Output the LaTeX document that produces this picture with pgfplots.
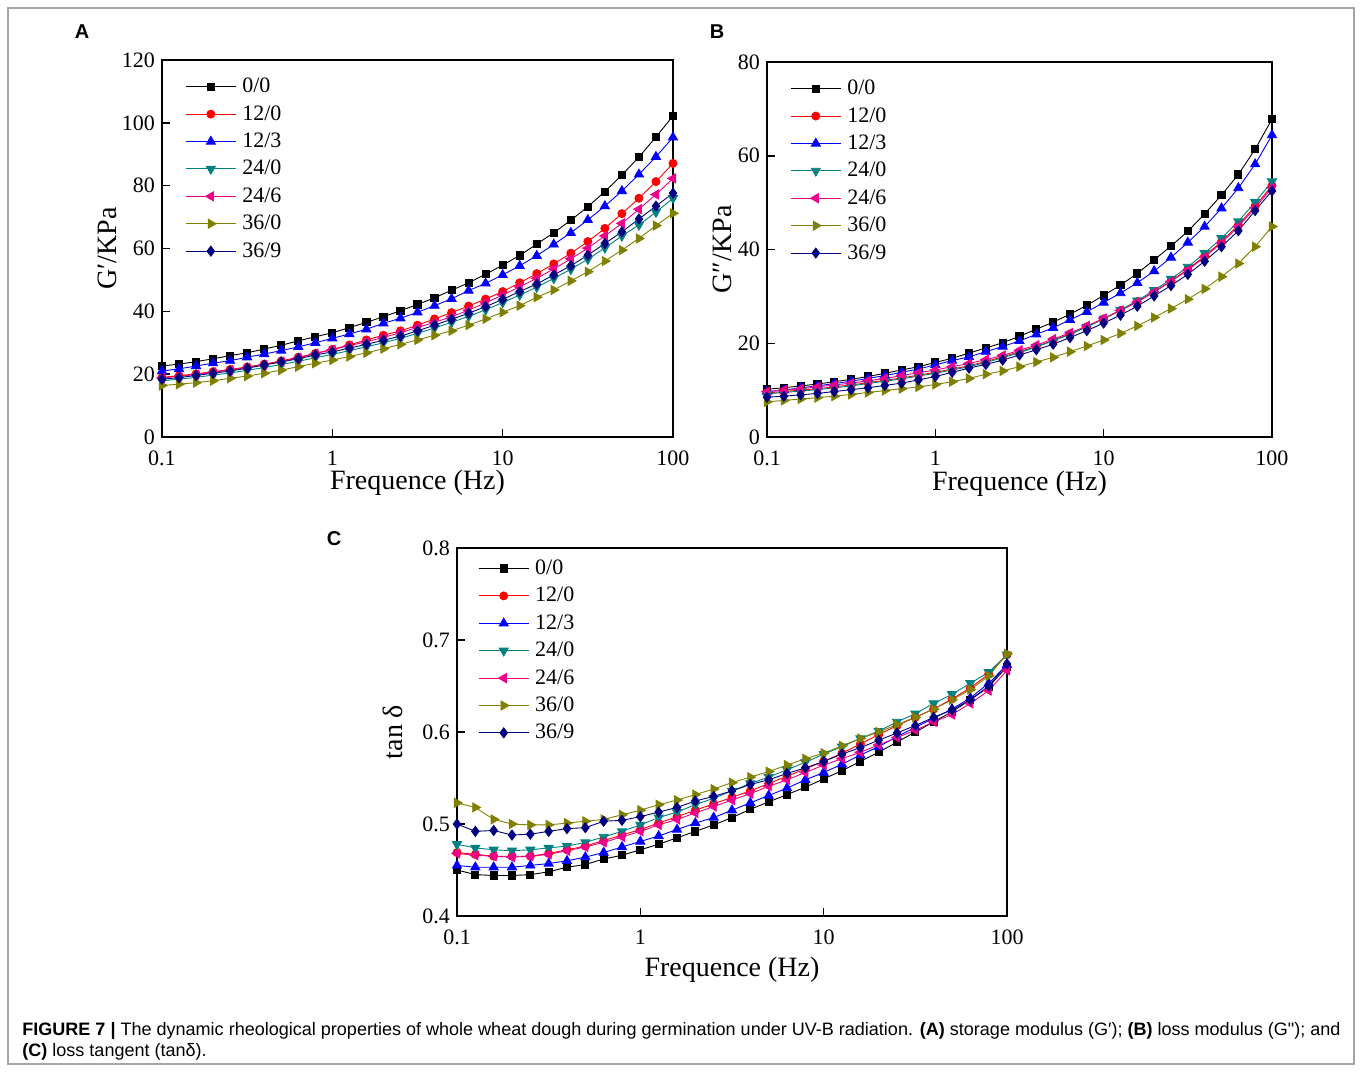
\documentclass[border=0pt]{standalone}
\usepackage{fontspec}
\setmainfont{Liberation Serif}
\newfontfamily\capfont{Liberation Sans}
\usepackage{graphicx}
\usepackage{pgfplots}
\usepackage{pgfplotstable}
\pgfplotsset{compat=1.18}
\definecolor{tealc}{RGB}{0,128,128}
\definecolor{olivec}{RGB}{128,128,0}
\definecolor{navyc}{RGB}{0,0,128}
\definecolor{capgray}{RGB}{35,35,35}
\newsavebox{\capA}
\newsavebox{\capB}

\pgfplotstableread{
f s00 s120 s123 s240 s246 s360 s369
0.1 22.6 19.0 21.0 17.9 18.8 16.4 18.4
0.12589 23.2 19.5 21.7 18.4 19.3 16.8 18.9
0.15849 24.0 20.1 22.6 19.0 19.9 17.3 19.6
0.19953 24.9 20.8 23.5 19.7 20.6 17.9 20.3
0.25119 25.9 21.5 24.3 20.4 21.3 18.7 21.0
0.31623 26.8 22.3 25.4 21.2 22.1 19.4 21.9
0.39811 28.0 23.2 26.4 22.1 23.0 20.3 22.9
0.50119 29.2 24.2 27.5 23.1 24.0 21.3 23.9
0.63096 30.6 25.4 28.7 24.1 25.2 22.4 24.9
0.79433 31.9 26.6 30.0 25.2 26.5 23.5 26.1
1 33.2 27.9 31.4 26.3 27.8 24.5 27.1
1.2589 34.8 29.3 32.8 27.5 29.1 25.6 28.3
1.5849 36.5 30.9 34.3 28.7 30.3 26.8 29.5
1.9953 38.3 32.4 36.2 30.0 31.7 28.1 30.8
2.5119 40.2 33.8 37.8 31.4 33.2 29.5 32.1
3.1623 42.2 35.6 39.7 33.0 34.9 30.9 33.8
3.9811 44.3 37.6 41.8 34.7 36.5 32.4 35.6
5.0119 46.7 39.6 44.0 36.5 38.3 33.8 37.5
6.3096 49.1 41.7 46.6 38.4 40.4 35.6 39.4
7.9433 51.8 43.9 48.9 40.5 42.7 37.6 41.5
10 54.7 46.3 51.6 42.8 45.2 39.7 43.8
12.589 57.8 49.1 54.5 45.2 47.8 41.8 46.3
15.849 61.4 52.0 57.7 47.7 50.5 44.5 48.7
19.953 65.0 55.1 61.3 50.5 53.5 46.8 51.6
25.119 69.0 58.5 65.0 53.4 56.7 49.7 54.5
31.623 73.3 62.2 69.1 56.6 60.1 52.6 57.9
39.811 78.1 66.4 73.5 60.2 64.0 56.0 61.6
50.119 83.4 71.1 78.3 64.0 68.0 59.5 65.3
63.096 89.1 76.0 83.6 67.5 72.5 63.2 69.4
79.433 95.5 81.3 89.2 71.6 77.2 67.3 73.5
100 102.2 87.1 95.4 76.0 82.3 71.2 77.6
}\tA

\pgfplotstableread{
f s00 s120 s123 s240 s246 s360 s369
0.1 10.2 9.4 9.7 9.2 9.7 7.5 8.5
0.12589 10.5 9.7 10.0 9.5 10.0 7.8 8.7
0.15849 10.9 10.0 10.5 9.8 10.3 8.1 9.0
0.19953 11.3 10.3 10.9 10.1 10.7 8.4 9.3
0.25119 11.8 10.7 11.4 10.5 11.1 8.7 9.7
0.31623 12.3 11.1 11.9 10.9 11.5 9.1 10.1
0.39811 12.9 11.6 12.5 11.4 12.0 9.5 10.5
0.50119 13.6 12.1 13.1 11.9 12.5 9.9 11.0
0.63096 14.3 12.6 13.8 12.4 13.1 10.3 11.5
0.79433 15.0 13.2 14.5 13.0 13.7 10.7 12.2
1 15.9 13.8 15.4 13.6 14.3 11.2 12.9
1.2589 16.8 14.5 16.3 14.3 15.0 11.8 13.8
1.5849 17.9 15.2 17.1 15.0 15.7 12.5 14.7
1.9953 19.0 16.1 18.2 15.9 16.5 13.4 15.5
2.5119 20.1 17.1 19.3 16.9 17.4 14.1 16.4
3.1623 21.5 18.2 20.5 18.0 18.5 15.0 17.5
3.9811 23.0 19.3 21.9 19.2 19.6 16.0 18.6
5.0119 24.5 20.6 23.3 20.5 20.9 17.0 19.8
6.3096 26.2 22.0 25.0 21.9 22.2 18.2 21.2
7.9433 28.1 23.5 26.7 23.5 23.7 19.4 22.7
10 30.2 25.2 28.7 25.2 25.3 20.7 24.3
12.589 32.4 27.0 30.7 27.1 27.0 22.1 26.0
15.849 34.9 28.9 32.9 29.1 28.8 23.7 27.9
19.953 37.8 31.0 35.4 31.3 30.9 25.5 30.1
25.119 40.7 33.3 38.3 33.7 33.2 27.4 32.3
31.623 43.9 35.8 41.5 36.3 35.6 29.4 34.7
39.811 47.6 38.6 44.9 39.2 38.4 31.6 37.5
50.119 51.6 41.7 48.8 42.4 41.4 34.2 40.6
63.096 56.0 45.2 53.1 46.0 44.9 37.0 44.0
79.433 61.4 49.3 58.2 50.1 48.9 40.6 48.3
100 67.8 53.6 64.4 54.5 53.2 44.9 52.5
}\tB

\pgfplotstableread{
f s00 s120 s123 s240 s246 s360 s369
0.1 0.450 0.469 0.455 0.478 0.468 0.523 0.500
0.12589 0.445 0.467 0.453 0.474 0.466 0.518 0.492
0.15849 0.444 0.465 0.453 0.472 0.465 0.505 0.493
0.19953 0.444 0.465 0.453 0.471 0.464 0.500 0.488
0.25119 0.445 0.465 0.455 0.472 0.465 0.499 0.489
0.31623 0.448 0.468 0.457 0.474 0.467 0.499 0.492
0.39811 0.453 0.472 0.460 0.476 0.471 0.501 0.495
0.50119 0.456 0.476 0.464 0.480 0.475 0.503 0.496
0.63096 0.462 0.482 0.469 0.486 0.480 0.505 0.503
0.79433 0.466 0.488 0.475 0.492 0.486 0.510 0.504
1 0.472 0.494 0.481 0.499 0.492 0.515 0.508
1.2589 0.478 0.501 0.487 0.507 0.499 0.521 0.513
1.5849 0.485 0.508 0.494 0.513 0.505 0.526 0.518
1.9953 0.492 0.515 0.501 0.521 0.512 0.532 0.525
2.5119 0.499 0.522 0.507 0.528 0.519 0.538 0.530
3.1623 0.507 0.529 0.515 0.536 0.526 0.545 0.536
3.9811 0.516 0.536 0.523 0.544 0.533 0.551 0.543
5.0119 0.524 0.544 0.531 0.551 0.541 0.557 0.548
6.3096 0.532 0.552 0.539 0.559 0.548 0.564 0.555
7.9433 0.540 0.560 0.548 0.567 0.556 0.571 0.561
10 0.549 0.568 0.556 0.576 0.564 0.577 0.568
12.589 0.558 0.577 0.565 0.584 0.571 0.585 0.576
15.849 0.568 0.587 0.575 0.593 0.578 0.593 0.583
19.953 0.578 0.597 0.584 0.601 0.586 0.600 0.591
25.119 0.589 0.607 0.595 0.611 0.594 0.608 0.599
31.623 0.600 0.616 0.605 0.620 0.602 0.616 0.607
39.811 0.611 0.625 0.615 0.631 0.611 0.625 0.616
50.119 0.622 0.636 0.625 0.641 0.619 0.635 0.624
63.096 0.635 0.648 0.637 0.653 0.631 0.646 0.635
79.433 0.649 0.663 0.653 0.665 0.645 0.661 0.650
100 0.671 0.684 0.673 0.684 0.667 0.685 0.674
}\tC

\pgfplotsset{
  panel/.style={
    scale only axis, xmin=0.1, xmax=100,
    xtick={0.1,1,10,100}, xticklabels={0.1,1,10,100},
    xminorticks=false, yminorticks=false,
    tick align=inside, tick pos=left, major tick length=4pt,
    axis line style={line width=0.75pt},
    every tick/.append style={line width=0.75pt, black},
    tick label style={font=\fontsize{11}{13}\selectfont},
    xticklabel style={yshift=-3.5pt},
    /pgf/number format/assume math mode=true,
    every axis plot/.append style={line width=0.45pt},
    legend cell align=left,
    legend image code/.code={\draw[mark repeat=2,mark phase=2] plot coordinates {(0pt,0pt) (12.5pt,0pt) (25pt,0pt)};},
    legend style={draw=none, fill=none, anchor=north west, inner sep=0pt, row sep=1.7pt, column sep=2pt,
      font=\fontsize{11}{13}\selectfont, nodes={inner sep=1pt, text height=8pt, text depth=2pt}},
  },
  g00/.style={black, mark=square*, mark size=1.8pt, mark options={solid}},
  g120/.style={red, mark=*, mark size=2pt, mark options={solid}},
  g123/.style={blue, mark=triangle*, mark size=2.6pt, mark options={solid}},
  g240/.style={tealc, mark=triangle*, mark size=2.6pt, mark options={solid, rotate=180}},
  g246/.style={magenta, mark=triangle*, mark size=2.6pt, mark options={solid, rotate=90}},
  g360/.style={olivec, mark=triangle*, mark size=2.6pt, mark options={solid, rotate=-90}},
  g369/.style={navyc, mark=diamond*, mark size=2.5pt, mark options={solid}},
}

\newcommand{\allplots}[1]{%
  \addplot[g00] table[x=f,y=s00] {#1};
  \addplot[g120] table[x=f,y=s120] {#1};
  \addplot[g123] table[x=f,y=s123] {#1};
  \addplot[g240] table[x=f,y=s240] {#1};
  \addplot[g246] table[x=f,y=s246] {#1};
  \addplot[g360] table[x=f,y=s360] {#1};
  \addplot[g369] table[x=f,y=s369] {#1};
  \legend{0/0,12/0,12/3,24/0,24/6,36/0,36/9}
}

\begin{document}%
\sbox{\capA}{\capfont\fontsize{9}{11}\selectfont\textbf{FIGURE 7 |} The dynamic rheological properties of whole wheat dough during germination under UV-B radiation. \textbf{(A)} storage modulus (G′); \textbf{(B)} loss modulus (G"); and}%
\sbox{\capB}{\capfont\fontsize{9}{11}\selectfont\textbf{(C)} loss tangent (tanδ).}%
\pgfmathsetmacro{\capfac}{659/\wd\capA}%
\begin{tikzpicture}
\useasboundingbox (0pt,0pt) rectangle (681pt,-536pt);
\draw[black!35, line width=0.6pt] (4pt,-4pt) rectangle (677pt,-532pt);

% Panel A
\begin{semilogxaxis}[panel, at={(81pt,-218.5pt)}, anchor=south west,
  width=255.5pt, height=188.5pt, ymin=0, ymax=120, ytick={0,20,...,120},
  xlabel={Frequence (Hz)}, ylabel={G′/KPa},
  every axis x label/.style={at={(axis description cs:0.5,-0.122)}, anchor=center, font=\fontsize{14}{16}\selectfont},
  every axis y label/.style={at={(axis description cs:-0.106,0.5)}, rotate=90, anchor=center, font=\fontsize{14}{16}\selectfont},
  legend style={at={(0.045,0.962)}}]
\allplots{\tA}
\end{semilogxaxis}

% Panel B
\begin{semilogxaxis}[panel, at={(383.5pt,-218.5pt)}, anchor=south west,
  width=252.5pt, height=187.5pt, ymin=0, ymax=80, ytick={0,20,...,80},
  xlabel={Frequence (Hz)}, ylabel={G″/KPa},
  every axis x label/.style={at={(axis description cs:0.5,-0.125)}, anchor=center, font=\fontsize{14}{16}\selectfont},
  every axis y label/.style={at={(axis description cs:-0.089,0.5)}, rotate=90, anchor=center, font=\fontsize{14}{16}\selectfont},
  legend style={at={(0.0455,0.962)}}]
\allplots{\tB}
\end{semilogxaxis}

% Panel C
\begin{semilogxaxis}[panel, at={(228.5pt,-458pt)}, anchor=south west,
  width=275pt, height=184pt, ymin=0.4, ymax=0.8, ytick={0.4,0.5,0.6,0.7,0.8},
  yticklabels={0.4,0.5,0.6,0.7,0.8},
  xlabel={Frequence (Hz)}, ylabel={tan δ},
  every axis x label/.style={at={(axis description cs:0.5,-0.147)}, anchor=center, font=\fontsize{14}{16}\selectfont},
  every axis y label/.style={at={(axis description cs:-0.116,0.5)}, rotate=90, anchor=center, font=\fontsize{14}{16}\selectfont},
  legend style={at={(0.038,0.978)}}]
\allplots{\tC}
\end{semilogxaxis}

% panel letters
\node[font=\capfont\bfseries\fontsize{10}{12}\selectfont, anchor=base] at (41pt,-19pt) {A};
\node[font=\capfont\bfseries\fontsize{10}{12}\selectfont, anchor=base] at (358.5pt,-19pt) {B};
\node[font=\capfont\bfseries\fontsize{10}{12}\selectfont, anchor=base] at (167pt,-272.5pt) {C};

% caption
\node[anchor=base west, inner sep=0pt, text=capgray] at (11pt,-517.5pt) {\scalebox{\capfac}[1]{\usebox{\capA}}};
\node[anchor=base west, inner sep=0pt, text=capgray] at (11pt,-528pt) {\scalebox{\capfac}[1]{\usebox{\capB}}};
\end{tikzpicture}%
\end{document}
